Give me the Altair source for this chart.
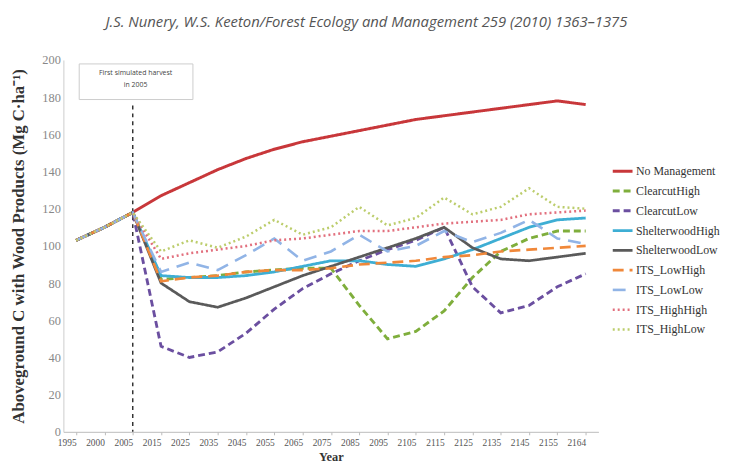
import altair as alt
import pandas as pd

years = ["1995", "2000", "2005", "2015", "2025", "2035", "2045", "2055", "2065", "2075",
         "2085", "2095", "2105", "2115", "2125", "2135", "2145", "2155", "2164"]

series_names = ["No Management", "ClearcutHigh", "ClearcutLow", "ShelterwoodHigh",
                "ShelterwoodLow", "ITS_LowHigh", "ITS_LowLow", "ITS_HighHigh", "ITS_HighLow"]

no_management = [103, 110, 118, 127, 134, 141, 147, 152, 156, 159, 162, 165, 168, 170, 172, 174, 176, 178, 176]
clearcut_high = [103, 110, 118, 82, 83, 84, 86, 87, 88, 88, 68, 50, 54, 65, 83, 97, 104, 108, 108]
clearcut_low = [103, 110, 118, 46, 40, 43, 53, 66, 77, 85, 92, 98, 103, 110, 78, 64, 68, 78, 85]
shelterwood_high = [103, 110, 118, 84, 83, 83, 84, 86, 89, 92, 92, 90, 89, 93, 98, 104, 110, 114, 115]
shelterwood_low = [103, 110, 118, 80, 70, 67, 72, 78, 84, 89, 94, 99, 104, 110, 99, 93, 92, 94, 96]
its_low_high = [103, 110, 118, 81, 83, 84, 86, 87, 87, 88, 90, 91, 92, 94, 95, 97, 98, 99, 100]
its_low_low = [103, 110, 118, 86, 91, 87, 95, 104, 92, 97, 106, 97, 100, 108, 102, 107, 114, 104, 101]
its_high_high = [103, 110, 118, 93, 96, 98, 100, 103, 104, 106, 108, 108, 110, 112, 113, 114, 117, 118, 119]
its_high_low = [103, 110, 118, 97, 103, 99, 105, 114, 106, 110, 121, 111, 115, 126, 117, 121, 131, 121, 120]

all_series = [no_management, clearcut_high, clearcut_low, shelterwood_high, shelterwood_low,
              its_low_high, its_low_low, its_high_high, its_high_low]

colors = ["#c8373a", "#7fae3c", "#6b4fa0", "#3eaed4", "#5a5a5a", "#f0883a", "#91b4e6", "#e2707e", "#bccd6c"]
dashes = [[1, 0], [7, 4], [7, 4], [1, 0], [1, 0], [11, 6], [13, 8], [2, 3], [2, 3]]
widths = [3, 2.5, 2.5, 3, 3, 4, 3, 2, 2]

rows = []
for name, vals in zip(series_names, all_series):
    for y, v in zip(years, vals):
        rows.append({"Year": y, "value": v, "series": name})
df = pd.DataFrame(rows)

x_scale = alt.Scale(type="point", domain=years, padding=0.45)

lines = alt.Chart(df).mark_line(strokeCap="butt").encode(
    x=alt.X("Year:N", scale=x_scale, sort=years,
            axis=alt.Axis(title="Year", labelAngle=0, labelFontSize=9.5, labelFont="Liberation Sans Narrow",
                          labelColor="#555", titleFont="Liberation Serif", titleFontSize=12.5,
                          titleFontWeight="bold", titleColor="#333", titlePadding=3,
                          domainColor="#bbb", tickColor="#bbb", tickSize=3, labelPadding=8)),
    y=alt.Y("value:Q", scale=alt.Scale(domain=[0, 200]),
            axis=alt.Axis(title="Aboveground C with Wood Products (Mg C·ha⁻¹)", values=list(range(0, 201, 20)),
                          grid=False, ticks=False, labelFont="Liberation Serif", labelFontSize=12.5,
                          labelColor="#888", titleFont="Liberation Serif", titleFontSize=17,
                          titleFontWeight="bold", titleColor="#333", titlePadding=15,
                          domainColor="#ccc", labelPadding=3)),
    color=alt.Color("series:N", scale=alt.Scale(domain=series_names, range=colors),
                    sort=series_names,
                    legend=alt.Legend(title=None, orient="none", legendX=554, legendY=101,
                                      symbolType="stroke", symbolSize=400, symbolStrokeWidth=3,
                                      labelFont="Liberation Serif", labelFontSize=12, labelColor="#333",
                                      rowPadding=2, labelLimit=300, labelOffset=2, symbolOffset=0)),
    strokeDash=alt.StrokeDash("series:N", scale=alt.Scale(domain=series_names, range=dashes),
                              sort=series_names, legend=None),
    strokeWidth=alt.StrokeWidth("series:N", scale=alt.Scale(domain=series_names, range=widths),
                                sort=series_names, legend=None),
    order=alt.Order("Year:N"),
)

rule_df = pd.DataFrame({"Year": ["2005"]})
vrule = alt.Chart(rule_df).mark_rule(strokeDash=[4, 4], color="#333", strokeWidth=1.5).encode(
    x=alt.X("Year:N", scale=x_scale, sort=years),
    y=alt.value(46), y2=alt.value(376),
)

box = alt.Chart(rule_df).mark_rect(fill="white", stroke="#cccccc", strokeWidth=1).encode(
    x=alt.value(16), x2=alt.value(131), y=alt.value(4), y2=alt.value(40),
)
note = alt.Chart(pd.DataFrame({"t": ["First simulated harvest", "in 2005"], "py": [13, 25]})).mark_text(
    fontSize=7, color="#444", font="Open Sans", align="center", baseline="middle"
).encode(
    x=alt.value(73), y=alt.Y("py:Q", scale=None), text="t:N"
)

chart = alt.layer(vrule, lines, box, note).properties(
    width=541, height=376,
    title=alt.TitleParams("J.S. Nunery, W.S. Keeton/Forest Ecology and Management 259 (2010) 1363–1375",
                          font="Open Sans", fontStyle="italic", fontSize=15, fontWeight="normal",
                          color="#555", anchor="middle", dx=36, offset=24),
    autosize=alt.AutoSizeParams(type="none"),
    padding={"left": 56, "top": 50, "right": 128, "bottom": 32},
).configure_view(stroke=None)

chart.save("out.html", embed_options={"renderer": "svg", "actions": False})
